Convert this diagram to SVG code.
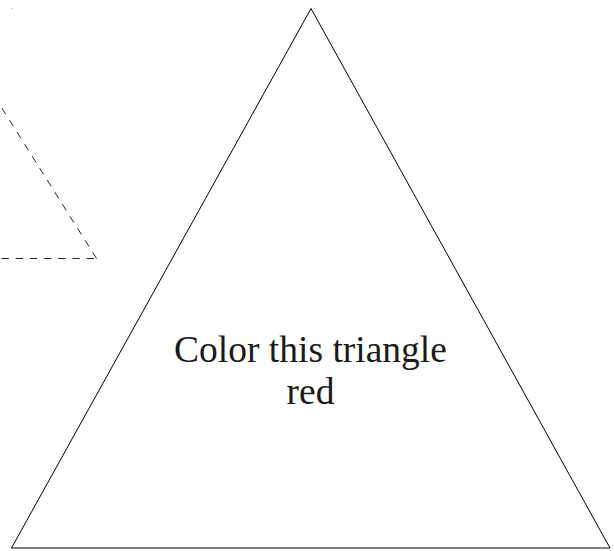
<svg xmlns="http://www.w3.org/2000/svg" width="614" height="551" viewBox="0 0 614 551">
  <style>
    .tri { fill: #ffffff; stroke: #000000; stroke-width: 1; }
    .dash { fill: none; stroke: #222222; stroke-width: 1; stroke-dasharray: 7.3 6.9; }
    .label { font-family: "Liberation Serif", "Times New Roman", serif; font-size: 37.5px; fill: #1a1a1a; text-anchor: middle; }
  </style>
  <rect x="0" y="0" width="614" height="551" fill="#ffffff"/>
  <g id="ghost-triangle">
    <line class="dash" x1="94" y1="258.5" x2="-20" y2="258.5"/>
    <line class="dash" x1="96.5" y1="258.5" x2="-12" y2="86"/>
    <rect x="11.5" y="8" width="1" height="1" fill="#999999"/>
  </g>
  <g id="triangle">
    <polygon class="tri" points="311,8.5 11.5,548 610,548"/>
    <text class="label" x="310.5" y="361.5">Color this triangle</text>
    <text class="label" x="310.5" y="404">red</text>
  </g>
</svg>
